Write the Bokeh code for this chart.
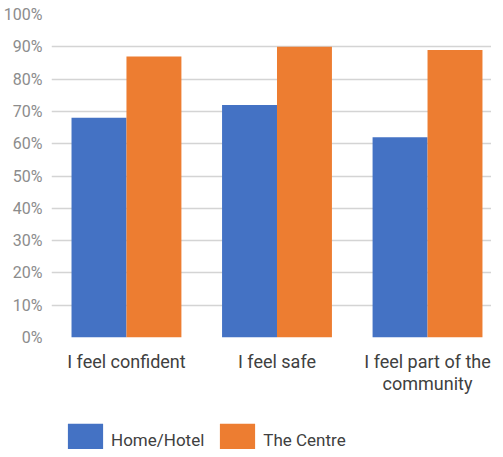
from bokeh.plotting import figure
from bokeh.layouts import column
from bokeh.models import (Range1d, FixedTicker, NumeralTickFormatter, Legend, LegendItem,
                          ColumnDataSource, LinearAxis)
from bokeh.embed import file_html
from bokeh.resources import INLINE

categories = ["I feel confident", "I feel safe", "I feel part of the\ncommunity"]
home_hotel = [0.68, 0.72, 0.62]
the_centre = [0.87, 0.90, 0.89]
series_names = ["Home/Hotel", "The Centre"]
colors = ["#4472C4", "#ED7D31"]
y_ticks = [i / 10 for i in range(11)]

pos = [0, 1, 2]
bw = 0.365
font = "Roboto"

p = figure(width=491, height=419, output_backend="svg", toolbar_location=None,
           x_range=Range1d(-0.498, 2.425), y_range=Range1d(0, 1),
           min_border_left=51, min_border_right=0, min_border_top=14, min_border_bottom=82)
p.outline_line_color = None

src = ColumnDataSource(dict(x1=[x - bw / 2 for x in pos], x2=[x + bw / 2 for x in pos],
                            h=home_hotel, c=the_centre))
p.vbar(x="x1", top="h", width=bw, source=src, color=colors[0], line_color=None)
p.vbar(x="x2", top="c", width=bw, source=src, color=colors[1], line_color=None)

p.xgrid.grid_line_color = None
p.ygrid.grid_line_color = "#d4d4d4"
p.ygrid.grid_line_width = 1.5
p.yaxis.ticker = FixedTicker(ticks=y_ticks)
p.yaxis.formatter = NumeralTickFormatter(format="0%")
p.yaxis.axis_line_color = None
p.yaxis.major_tick_line_color = None
p.yaxis.minor_tick_line_color = None
p.yaxis.major_label_text_font = font
p.yaxis.major_label_text_font_size = "16px"
p.yaxis.major_label_text_color = "#8c8c8c"
p.yaxis.major_label_standoff = 3

line1 = [c.split("\n")[0] for c in categories]
line2 = [c.split("\n")[1] if "\n" in c else "" for c in categories]

def style_x(ax, labels, standoff):
    ax.ticker = FixedTicker(ticks=pos)
    ax.major_label_overrides = {i: t for i, t in zip(pos, labels)}
    ax.axis_line_color = None
    ax.major_tick_line_color = None
    ax.minor_tick_line_color = None
    ax.major_label_text_font = font
    ax.major_label_text_font_size = "18px"
    ax.major_label_text_color = "#404040"
    ax.major_label_standoff = standoff

style_x(p.xaxis[0], line1, 7)
ax2 = LinearAxis()
style_x(ax2, line2, -8)
p.add_layout(ax2, "below")

# legend strip below the chart
lf = figure(width=491, height=30, output_backend="svg", toolbar_location=None,
            x_range=Range1d(0, 1), y_range=Range1d(10, 11),
            x_axis_type=None, y_axis_type=None,
            min_border_left=51, min_border_right=0, min_border_top=0, min_border_bottom=0)
lf.outline_line_color = None
lf.xgrid.visible = False
lf.ygrid.visible = False
l1 = lf.vbar(x="x1", top="h", width=bw, source=src, color=colors[0], line_color=None)
l2 = lf.vbar(x="x2", top="c", width=bw, source=src, color=colors[1], line_color=None)

legend = Legend(items=[LegendItem(label=series_names[0], renderers=[l1]),
                       LegendItem(label=series_names[1], renderers=[l2])],
                orientation="horizontal", location=(12, -12),
                glyph_width=44, glyph_height=42, label_standoff=4, spacing=11,
                padding=0, margin=0, border_line_color=None, background_fill_alpha=0,
                label_text_font=font, label_text_font_size="17px", label_text_color="#404040")
lf.add_layout(legend, "center")

open("out.html", "w").write(file_html(column(p, lf), INLINE))
